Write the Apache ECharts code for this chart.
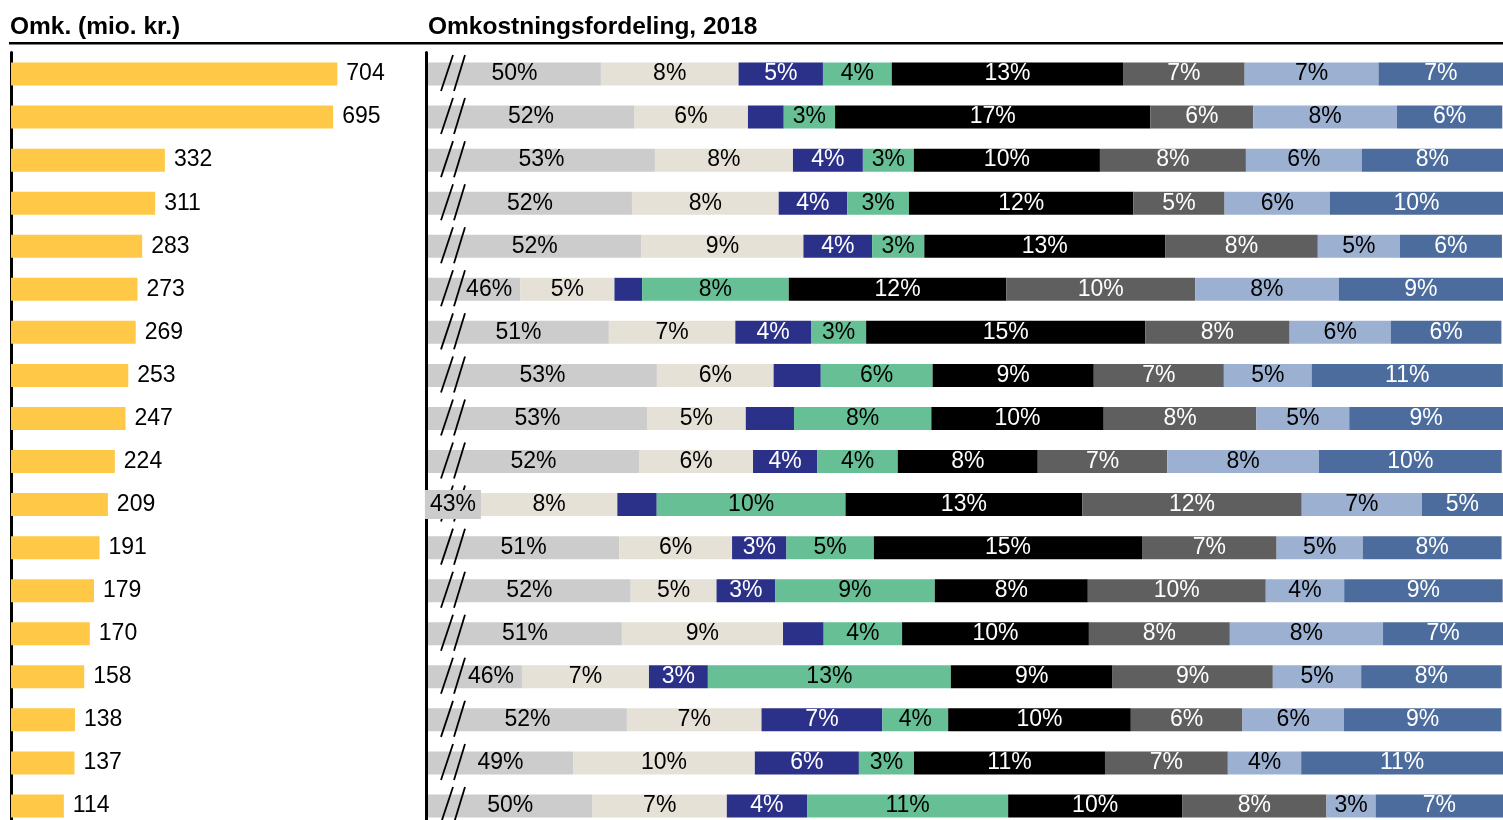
<!DOCTYPE html>
<html>
<head>
<meta charset="utf-8">
<title>Omkostningsfordeling 2018</title>
<script src="https://cdn.jsdelivr.net/npm/echarts@6/dist/echarts.min.js"></script>
<style>
  html, body { margin: 0; padding: 0; background: #fff; }
  #chart { width: 1503px; height: 820px; }
</style>
</head>
<body>
<div id="chart"></div>
<script>
// rows (names not shown in the picture)
const rows = ['1', '2', '3', '4', '5', '6', '7', '8', '9', '10', '11', '12', '13', '14', '15', '16', '17', '18'];

// Omk. (mio. kr.)
const cost = [704, 695, 332, 311, 283, 273, 269, 253, 247, 224, 209, 191, 179, 170, 158, 138, 137, 114];

// Omkostningsfordeling, 2018 (% of total)
const part1 = [50.07, 51.9, 53.06, 51.79, 52.32, 45.6, 50.51, 53.17, 52.62, 52.18, 43.43, 51.08, 51.72, 51.23, 45.7, 51.51, 48.53, 49.61];
const part2 = [7.62, 6.31, 7.64, 8.12, 8.96, 5.22, 7.0, 6.46, 5.47, 6.31, 7.55, 6.25, 4.75, 8.92, 7.03, 7.45, 10.06, 7.43];
const part3 = [4.67, 1.98, 3.87, 3.79, 3.8, 1.53, 4.19, 2.61, 2.67, 3.56, 2.18, 3.01, 3.24, 2.25, 3.26, 6.69, 5.76, 4.44];
const part4 = [3.81, 2.84, 2.82, 3.42, 2.89, 8.12, 3.05, 6.19, 7.6, 4.45, 10.45, 4.84, 8.84, 4.34, 13.45, 3.64, 3.05, 11.13];
const part5 = [12.8, 17.45, 10.3, 12.42, 13.33, 12.04, 15.45, 8.92, 9.54, 7.75, 13.1, 14.84, 8.47, 10.34, 8.95, 10.11, 10.57, 9.63];
const part6 = [6.73, 5.7, 8.08, 5.05, 8.45, 10.45, 7.99, 7.2, 8.45, 7.17, 12.15, 7.45, 9.85, 7.8, 8.87, 6.18, 6.8, 7.99];
const part7 = [7.41, 7.95, 6.41, 5.83, 4.54, 7.95, 5.6, 4.86, 5.14, 8.39, 6.65, 4.77, 4.34, 8.48, 4.89, 5.62, 4.06, 2.72];
const part8 = [6.89, 5.83, 7.82, 9.59, 5.65, 9.15, 6.12, 10.58, 8.55, 10.12, 4.5, 7.68, 8.77, 6.64, 7.78, 8.71, 11.17, 7.06];

const parts = [part1, part2, part3, part4, part5, part6, part7, part8];
const colors = ['#cccccc', '#e5e1d7', '#2b3089', '#66bf95', '#000000', '#5f5f5f', '#9cb1d1', '#4b6c9d'];
const labelColors = ['#000', '#000', '#fff', '#000', '#fff', '#fff', '#000', '#fff'];

// the axis of the right panel is broken, it starts here
const breakMin = 40.5;

const font = '"Liberation Sans", Arial, sans-serif';

let myChart = echarts.init(document.getElementById('chart'));

let series = [
    {
        type: 'bar',
        xAxisIndex: 0,
        yAxisIndex: 0,
        data: cost,
        barWidth: 23,
        itemStyle: { color: '#ffc846' },
        label: {
            show: true,
            position: 'right',
            distance: 9,
            color: '#000',
            fontSize: 23,
            fontFamily: font,
        },
        silent: true,
    },
];

for (let i = 0; i < parts.length; i++) {
    series.push({
        type: 'bar',
        xAxisIndex: 1,
        yAxisIndex: 1,
        stack: 'fordeling',
        barWidth: 23,
        clip: true,
        silent: true,
        itemStyle: { color: colors[i] },
        label: {
            show: true,
            position: 'inside',
            color: labelColors[i],
            fontSize: 23,
            fontFamily: font,
            formatter: function (p) {
                return p.value >= 2.7 ? Math.round(p.value) + '%' : '';
            },
        },
        data: parts[i].map(function (v) {
            if (i !== 0) return v;
            // short first bars: keep the label clear of the break marks
            if (v - breakMin < 4) {
                return {
                    value: v,
                    label: { position: 'insideRight', distance: 0, backgroundColor: '#cccccc', padding: [3, 5] },
                };
            }
            if (v - breakMin < 6) {
                return { value: v, label: { position: 'insideRight', distance: 8 } };
            }
            return v;
        }),
    });
}

// the two "//" marks on each row
series.push({
    type: 'custom',
    xAxisIndex: 1,
    yAxisIndex: 1,
    silent: true,
    data: rows.map(function (r, i) { return [breakMin, i]; }),
    encode: { x: 0, y: 1 },
    renderItem: function (params, api) {
        let p = api.coord([api.value(0), api.value(1)]);
        let x = p[0];
        let y = p[1];
        let style = { stroke: '#000', lineWidth: 1.8 };
        return {
            type: 'group',
            children: [
                { type: 'line', z2: 1, shape: { x1: x + 13, y1: y + 17, x2: x + 25, y2: y - 19 }, style: style },
                { type: 'line', z2: 1, shape: { x1: x + 26, y1: y + 17, x2: x + 37, y2: y - 19 }, style: style },
            ],
        };
    },
});

let option = {
    backgroundColor: '#fff',
    animation: false,
    title: [
        {
            text: 'Omk. (mio. kr.)',
            left: 10,
            top: 15,
            padding: 0,
            textStyle: { fontSize: 24.5, fontWeight: 'bold', color: '#000', fontFamily: font },
        },
        {
            text: 'Omkostningsfordeling, 2018',
            left: 428,
            top: 15,
            padding: 0,
            textStyle: { fontSize: 24.5, fontWeight: 'bold', color: '#000', fontFamily: font },
        },
    ],
    graphic: [
        {
            type: 'line',
            shape: { x1: 9, y1: 43.3, x2: 1503, y2: 43.3 },
            style: { stroke: '#000', lineWidth: 2.6 },
        },
    ],
    grid: [
        { left: 11, top: 52.5, width: 370.8, height: 775, outerBoundsMode: 'none' },
        { left: 428, top: 52.5, width: 1075, height: 775, outerBoundsMode: 'none' },
    ],
    xAxis: [
        { type: 'value', gridIndex: 0, min: 0, max: 800, show: false },
        { type: 'value', gridIndex: 1, min: breakMin, max: 100, show: false },
    ],
    yAxis: [
        {
            type: 'category',
            gridIndex: 0,
            data: rows,
            inverse: true,
            offset: 1.5,
            axisLine: { show: true, lineStyle: { color: '#000', width: 3 } },
            axisTick: { show: false },
            axisLabel: { show: false },
        },
        {
            type: 'category',
            gridIndex: 1,
            data: rows,
            inverse: true,
            offset: 2,
            axisLine: { show: true, lineStyle: { color: '#000', width: 3 } },
            axisTick: { show: false },
            axisLabel: { show: false },
        },
    ],
    series: series,
};

myChart.setOption(option);
window.onresize = function () {
    myChart.resize();
};
</script>
</body>
</html>
